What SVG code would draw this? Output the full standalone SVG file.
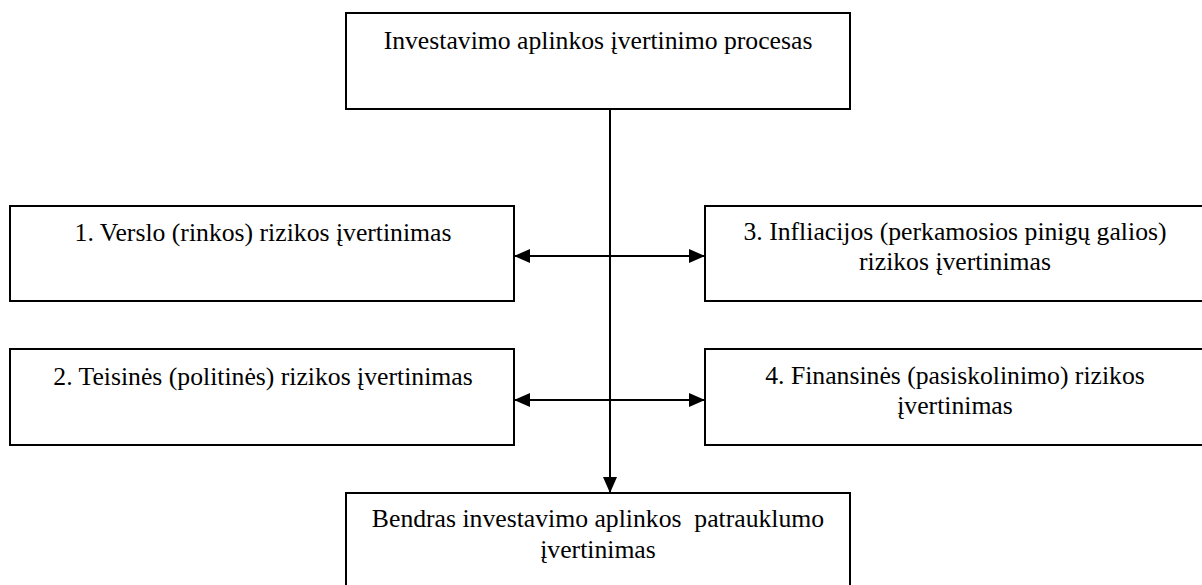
<svg xmlns="http://www.w3.org/2000/svg" width="1202" height="585" viewBox="0 0 1202 585">
  <style>
    .box { fill: #ffffff; stroke: #000000; stroke-width: 2; }
    .lbl { font-family: "Liberation Serif", "Times New Roman", serif; font-size: 25.7px; fill: #000000; text-anchor: middle; }
    .wire { stroke: #000000; stroke-width: 2; fill: none; }
  </style>
  <defs>
    <marker id="arrow-end" markerUnits="userSpaceOnUse" markerWidth="16" markerHeight="14" refX="16" refY="7" orient="auto">
      <path d="M0,0 L16,7 L0,14 Z" fill="#000000"/>
    </marker>
    <marker id="arrow-start" markerUnits="userSpaceOnUse" markerWidth="16" markerHeight="14" refX="0" refY="7" orient="auto">
      <path d="M16,0 L0,7 L16,14 Z" fill="#000000"/>
    </marker>
  </defs>

  <!-- connectors -->
  <g id="connectors">
    <line class="wire" x1="610" y1="109" x2="610" y2="493" marker-end="url(#arrow-end)"/>
    <line class="wire" x1="514" y1="256" x2="705" y2="256" marker-start="url(#arrow-start)" marker-end="url(#arrow-end)"/>
    <line class="wire" x1="514" y1="400" x2="705" y2="400" marker-start="url(#arrow-start)" marker-end="url(#arrow-end)"/>
  </g>

  <g id="process">
    <rect class="box" x="346" y="13" width="504" height="96"/>
    <text class="lbl" x="598" y="49">Investavimo aplinkos įvertinimo procesas</text>
  </g>

  <g id="risk-1">
    <rect class="box" x="10" y="206" width="504" height="95"/>
    <text class="lbl" x="263" y="241">1. Verslo (rinkos) rizikos įvertinimas</text>
  </g>

  <g id="risk-2">
    <rect class="box" x="10" y="349" width="504" height="96"/>
    <text class="lbl" x="263" y="385">2. Teisinės (politinės) rizikos įvertinimas</text>
  </g>

  <g id="risk-3">
    <rect class="box" x="705" y="206" width="504" height="95"/>
    <text class="lbl" x="955" y="240">3. Infliacijos (perkamosios pinigų galios)</text>
    <text class="lbl" x="955" y="270">rizikos įvertinimas</text>
  </g>

  <g id="risk-4">
    <rect class="box" x="705" y="349" width="504" height="96"/>
    <text class="lbl" x="955" y="384">4. Finansinės (pasiskolinimo) rizikos</text>
    <text class="lbl" x="955" y="414">įvertinimas</text>
  </g>

  <g id="overall">
    <rect class="box" x="346" y="493" width="504" height="100"/>
    <text class="lbl" x="598" y="527" xml:space="preserve">Bendras investavimo aplinkos  patrauklumo</text>
    <text class="lbl" x="598" y="558">įvertinimas</text>
  </g>
</svg>
